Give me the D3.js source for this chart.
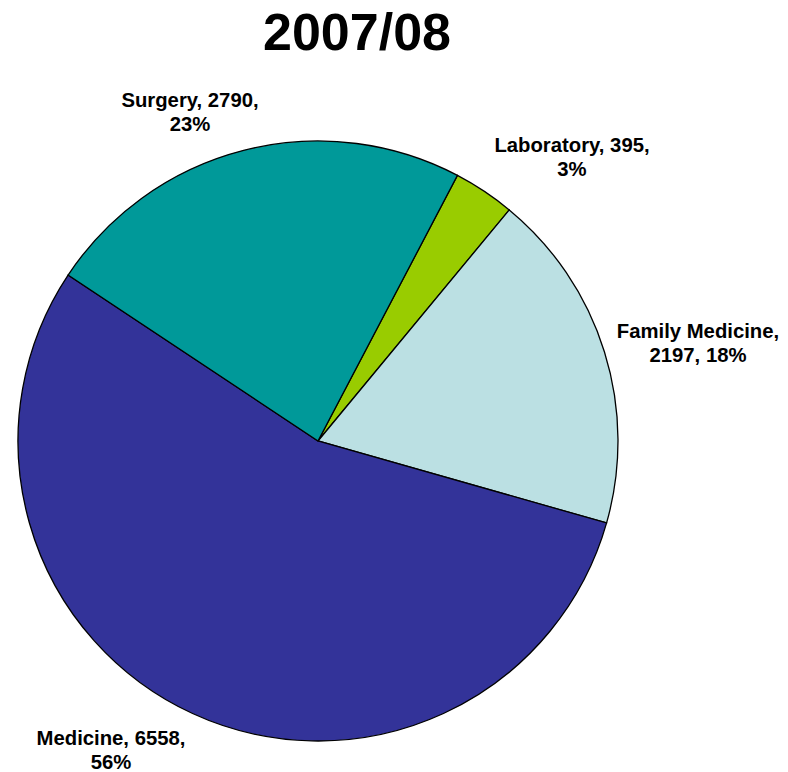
<!DOCTYPE html>
<meta charset="utf-8">
<html>
<head>
    <style>
        body {
            margin: 0;
            background: #fff;
            font-family: "Liberation Sans", Arial, Helvetica, sans-serif;
        }

        .title {
            font-size: 52px;
            font-weight: bold;
        }

        .label {
            font-size: 20.3px;
            font-weight: bold;
        }

        .slice {
            stroke: #000;
            stroke-width: 1.3;
        }
    </style>
</head>
<body>
    <div id="chart"></div>
    <script src="https://d3js.org/d3.v7.min.js"></script>
    <script>
        var categories = ["Laboratory", "Family Medicine", "Medicine", "Surgery"];
        var values = [395, 2197, 6558, 2790];
        var colors = ["#99CC00", "#BBE0E3", "#333399", "#009999"];

        // label lines as shown in the chart
        var labelLines = [
            ["Laboratory, 395,", "3%"],
            ["Family Medicine,", "2197, 18%"],
            ["Medicine, 6558,", "56%"],
            ["Surgery, 2790,", "23%"]
        ];
        // label anchor positions (centre x, first baseline y)
        var labelPos = [[572, 152], [698, 338], [111, 745], [190, 107]];

        var width = 788,
            height = 772,
            cx = 318,
            cy = 441,
            radius = 300,
            startOffset = 27.7 * Math.PI / 180;

        var svg = d3.select("#chart")
            .append("svg")
            .attr("width", width)
            .attr("height", height);

        svg.append("text")
            .attr("class", "title")
            .attr("x", 357)
            .attr("y", 50)
            .attr("text-anchor", "middle")
            .text("2007/08");

        var pie = d3.pie()
            .sort(null)
            .startAngle(startOffset)
            .endAngle(startOffset + 2 * Math.PI)
            .value(function (d) { return d; });

        var arc = d3.arc()
            .innerRadius(0)
            .outerRadius(radius);

        var g = svg.append("g")
            .attr("transform", "translate(" + cx + "," + cy + ")");

        g.selectAll("path")
            .data(pie(values))
            .enter()
            .append("path")
            .attr("class", "slice")
            .attr("d", arc)
            .attr("fill", function (d, i) { return colors[i]; });

        var labels = svg.selectAll("text.label")
            .data(categories)
            .enter()
            .append("text")
            .attr("class", "label")
            .attr("text-anchor", "middle")
            .attr("x", function (d, i) { return labelPos[i][0]; })
            .attr("y", function (d, i) { return labelPos[i][1]; });

        labels.each(function (d, i) {
            var t = d3.select(this);
            labelLines[i].forEach(function (line, j) {
                t.append("tspan")
                    .attr("x", labelPos[i][0])
                    .attr("dy", j === 0 ? 0 : 24)
                    .text(line);
            });
        });
    </script>
</body>
</html>
